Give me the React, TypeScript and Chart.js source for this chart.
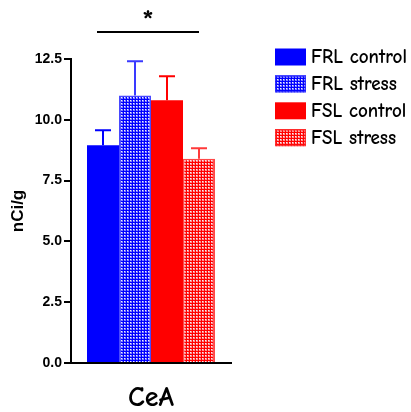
import React, { useEffect, useRef } from "react";
import { Chart, registerables } from "chart.js";

Chart.register(...registerables);

const categories = ["CeA"];
const seriesLabels = ["FRL control", "FRL stress", "FSL control", "FSL stress"];
const means = [8.95, 11.0, 10.8, 8.4];
const sems = [0.62, 1.41, 0.99, 0.43];
const baseColors = ["#0000ff", "#0000ff", "#ff0000", "#ff0000"];
const lightColors = ["#0000ff", "#8080ff", "#ff0000", "#ff9090"];
const patterned = [false, true, false, true];
const yMin = 0;
const yMax = 12.5;
const yStep = 2.5;
const yTitle = "nCi/g";
const sigLabel = "*";

const COMIC = '"Comic Sans MS", "Comic Neue", "DejaVu Sans", sans-serif';
const ARIAL = '"Liberation Sans", Arial, sans-serif';

function makePattern(color: string, light: string): CanvasPattern | string {
  const c = document.createElement("canvas");
  c.width = 3;
  c.height = 3;
  const g = c.getContext("2d");
  if (!g) return color;
  g.fillStyle = color;
  g.fillRect(0, 0, 3, 3);
  g.fillStyle = light;
  g.fillRect(1, 1, 2, 2);
  g.fillStyle = "#f0f0ff";
  g.fillRect(1, 1, 1, 1);
  const p = g.createPattern(c, "repeat");
  return p || color;
}

const errorBarPlugin = {
  id: "errorBars",
  afterDatasetsDraw(chart: any) {
    const ctx = chart.ctx;
    const y = chart.scales.y;
    chart.data.datasets.forEach((ds: any, i: number) => {
      const meta = chart.getDatasetMeta(i);
      meta.data.forEach((bar: any, j: number) => {
        const top = y.getPixelForValue(ds.data[j] + ds.errors[j]);
        const x = bar.x;
        ctx.save();
        ctx.strokeStyle = ds.errorColor;
        ctx.lineWidth = 2;
        ctx.beginPath();
        ctx.moveTo(x, bar.y);
        ctx.lineTo(x, top);
        ctx.moveTo(x - 8, top);
        ctx.lineTo(x + 8, top);
        ctx.stroke();
        ctx.restore();
      });
    });
  },
};

const sigPlugin = {
  id: "sig",
  afterDraw(chart: any) {
    const ctx = chart.ctx;
    const m0 = chart.getDatasetMeta(0).data[0];
    const m3 = chart.getDatasetMeta(3).data[0];
    if (!m0 || !m3) return;
    const left = m0.x - 6;
    const right = m3.x;
    const yLine = chart.chartArea.top - 27;
    ctx.save();
    ctx.strokeStyle = "#000";
    ctx.lineWidth = 2;
    ctx.beginPath();
    ctx.moveTo(left, yLine);
    ctx.lineTo(right, yLine);
    ctx.stroke();
    ctx.fillStyle = "#000";
    ctx.font = "bold 30px " + COMIC;
    ctx.textAlign = "center";
    ctx.textBaseline = "middle";
    ctx.fillText(sigLabel, (left + right) / 2, yLine - 10);
    ctx.restore();
  },
};

const legendPlugin = {
  id: "customLegend",
  afterDraw(chart: any) {
    const ctx = chart.ctx;
    const x0 = chart.chartArea.right + 44;
    const y0 = chart.chartArea.top - 2;
    const gap = 26.9;
    ctx.save();
    ctx.font = "bold 17px " + COMIC;
    const w = ctx.measureText(seriesLabels[0]).width;
    const size = Math.max(10, Math.min(20, (17 * 96) / w));
    ctx.font = "bold " + size + "px " + COMIC;
    chart.data.datasets.forEach((ds: any, i: number) => {
      const cy = y0 + i * gap;
      ctx.fillStyle = ds.backgroundColor;
      ctx.fillRect(x0, cy - 8.5, 31, 17);
      if (ds.borderWidth) {
        ctx.strokeStyle = ds.borderColor;
        ctx.lineWidth = 1.5;
        ctx.strokeRect(x0 + 0.75, cy - 8.5 + 0.75, 29.5, 15.5);
      }
      ctx.fillStyle = "#000";
      ctx.textAlign = "left";
      ctx.textBaseline = "middle";
      ctx.fillText(ds.label, x0 + 36, cy + 1);
    });
    ctx.restore();
  },
};

export default function App() {
  const ref = useRef<HTMLCanvasElement | null>(null);
  useEffect(() => {
    if (!ref.current) return;
    const datasets = seriesLabels.map((label, i) => ({
      label,
      data: [means[i]],
      errors: [sems[i]],
      backgroundColor: patterned[i] ? makePattern(baseColors[i], lightColors[i]) : baseColors[i],
      borderColor: patterned[i] ? (i === 1 ? "rgba(40,40,255,0.85)" : "rgba(255,40,40,0.85)") : baseColors[i],
      borderWidth: patterned[i] ? 1.5 : 0,
      borderSkipped: "bottom",
      errorColor: patterned[i] ? (i === 1 ? "#3a3aff" : "#ff3a3a") : baseColors[i],
      categoryPercentage: 0.8,
      barPercentage: 1.0,
    }));
    const chart = new Chart(ref.current, {
      type: "bar",
      data: { labels: categories, datasets: datasets as any },
      options: {
        animation: false,
        responsive: false,
        devicePixelRatio: 1,
        layout: { padding: { left: 0, right: 180, top: 59, bottom: 0 } },
        plugins: { legend: { display: false }, tooltip: { enabled: false } },
        scales: {
          x: {
            grid: { display: false, drawTicks: false },
            border: { display: true, color: "#000", width: 2 },
            ticks: { color: "#000", font: { family: COMIC, size: 28, weight: "bold" }, padding: 18 },
            afterFit: (s: any) => {
              s.height = 49;
            },
          },
          y: {
            min: yMin,
            max: yMax,
            ticks: {
              stepSize: yStep,
              color: "#000",
              font: { family: ARIAL, size: 14, weight: "bold" },
              padding: 2,
              callback: (v: any) => Number(v).toFixed(1),
            },
            grid: { drawOnChartArea: false, drawTicks: true, tickLength: 7, color: "#000", lineWidth: 2 },
            border: { display: true, color: "#000", width: 2 },
            title: {
              display: true,
              text: yTitle,
              color: "#000",
              font: { family: ARIAL, size: 17, weight: "bold" },
              padding: { top: 8, bottom: 0 },
            },
            afterFit: (s: any) => {
              s.width = 71;
            },
          },
        },
      } as any,
      plugins: [errorBarPlugin, sigPlugin, legendPlugin],
    });
    return () => chart.destroy();
  }, []);
  return (
    <div style={{ position: "fixed", left: 0, top: 0, width: 411, height: 412, background: "#fff" }}>
      <canvas ref={ref} width={411} height={412} style={{ width: 411, height: 412 }} />
    </div>
  );
}
